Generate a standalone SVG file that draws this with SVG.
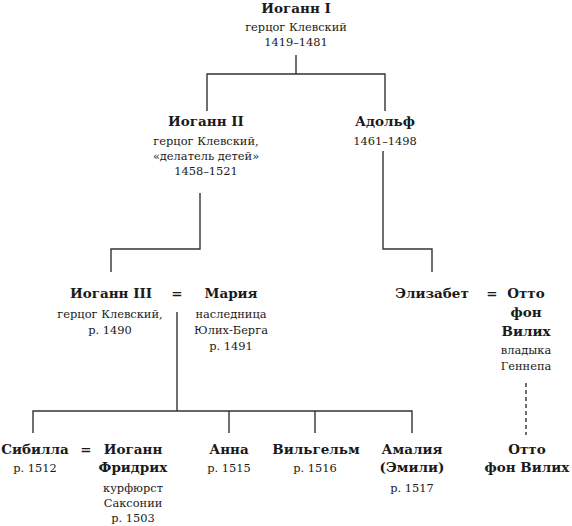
<svg xmlns="http://www.w3.org/2000/svg" width="572" height="526" viewBox="0 0 572 526">
<style>
text{font-family:"DejaVu Serif",serif;text-anchor:middle;fill:#1a1a1a}
.n{font-weight:bold;font-size:13.5px}
.s{font-size:11.4px}
.c{fill:none;stroke:#333;stroke-width:1.4}
.d{fill:none;stroke:#333;stroke-width:1.4;stroke-dasharray:4 3}
</style>
<rect width="572" height="526" fill="#fff"/>
<g id="connectors">
<path class="c" d="M296 55V74M207 111V74H385V111"/>
<path class="c" d="M200 193V249H111V272"/>
<path class="c" d="M383 151V249H432V272"/>
<path class="c" d="M177 312V411M33 433V411H412V433M229 411V433M315 411V433"/>
<path class="d" d="M526 383V435"/>
</g>
<g id="johann1">
<text class="n" x="296" y="13">Иоганн I</text>
<text class="s" x="296" y="31">герцог Клевский</text>
<text class="s" x="296" y="46">1419–1481</text>
</g>
<g id="johann2">
<text class="n" x="206" y="126">Иоганн II</text>
<text class="s" x="206" y="145">герцог Клевский,</text>
<text class="s" x="206" y="160">«делатель детей»</text>
<text class="s" x="206" y="175">1458–1521</text>
</g>
<g id="adolf">
<text class="n" x="385" y="126">Адольф</text>
<text class="s" x="385" y="145">1461–1498</text>
</g>
<g id="johann3">
<text class="n" x="111" y="298">Иоганн III</text>
<text class="s" x="110" y="318">герцог Клевский,</text>
<text class="s" x="110" y="334">р. 1490</text>
</g>
<g id="eq1"><text class="n" x="177" y="298">=</text></g>
<g id="maria">
<text class="n" x="231" y="298">Мария</text>
<text class="s" x="231" y="318">наследница</text>
<text class="s" x="231" y="334">Юлих-Берга</text>
<text class="s" x="231" y="350">р. 1491</text>
</g>
<g id="elisabeth"><text class="n" x="432" y="298">Элизабет</text></g>
<g id="eq2"><text class="n" x="492" y="298">=</text></g>
<g id="otto1">
<text class="n" x="526" y="298">Отто</text>
<text class="n" x="526" y="317">фон</text>
<text class="n" x="526" y="336">Вилих</text>
<text class="s" x="526" y="354">владыка</text>
<text class="s" x="526" y="370">Геннепа</text>
</g>
<g id="sibylla">
<text class="n" x="35" y="454">Сибилла</text>
<text class="s" x="35" y="472">р. 1512</text>
</g>
<g id="eq3"><text class="n" x="86" y="454">=</text></g>
<g id="johannfriedrich">
<text class="n" x="133" y="454">Иоганн</text>
<text class="n" x="133" y="472">Фридрих</text>
<text class="s" x="133" y="492">курфюрст</text>
<text class="s" x="133" y="507">Саксонии</text>
<text class="s" x="133" y="522">р. 1503</text>
</g>
<g id="anna">
<text class="n" x="229" y="454">Анна</text>
<text class="s" x="229" y="472">р. 1515</text>
</g>
<g id="wilhelm">
<text class="n" x="316" y="454">Вильгельм</text>
<text class="s" x="315" y="472">р. 1516</text>
</g>
<g id="amalia">
<text class="n" x="412" y="454">Амалия</text>
<text class="n" x="412" y="472">(Эмили)</text>
<text class="s" x="412" y="492">р. 1517</text>
</g>
<g id="otto2">
<text class="n" x="527" y="454">Отто</text>
<text class="n" x="527" y="472">фон Вилих</text>
</g>
</svg>
